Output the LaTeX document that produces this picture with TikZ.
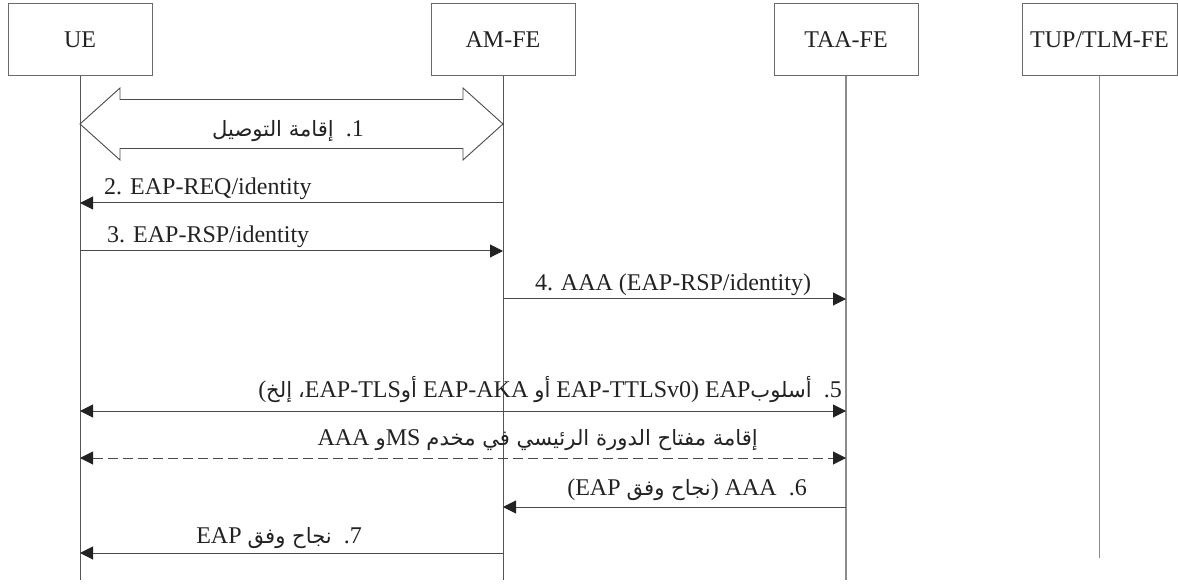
\documentclass[tikz,border=0pt]{standalone}
\usepackage{fontspec}
\setmainfont{Liberation Serif}
\newfontfamily\arabicfont[Script=Arabic,Scale=0.88]{DejaVu Sans}
\TeXXeTstate=1
\usetikzlibrary{arrows.meta,calc}
\definecolor{boxline}{HTML}{6A6A6A}
\definecolor{lifedark}{HTML}{555555}
\definecolor{lifelight}{HTML}{8C8C8C}
\definecolor{msgline}{HTML}{4A4A4A}
\definecolor{tipfill}{HTML}{222222}
\definecolor{inktext}{HTML}{222222}
% Arabic run, Latin run, and a lone glyph kept as its own node
\newcommand{\ar}[1]{{\arabicfont #1}}
\newcommand{\lt}[1]{\beginL #1\endL}
\newcommand{\gl}[1]{\kern0pt{#1}\kern0pt}
\begin{document}
\begin{tikzpicture}[x=1pt,y=-1pt,
  font=\fontsize{24}{28}\selectfont, text=inktext,
  entity/.style={draw=boxline, line width=1pt, minimum width=144pt,
    minimum height=72pt, inner sep=0pt},
  life/.style={draw=lifedark, line width=1pt},
  lifel/.style={draw=lifelight, line width=1.3pt},
  msg/.style={draw=msgline, line width=1pt, -{Triangle[length=13pt,width=13pt,fill=tipfill,color=tipfill]}},
  both/.style={draw=msgline, line width=1pt,
    {Triangle[length=13pt,width=13pt,fill=tipfill,color=tipfill]}-{Triangle[length=13pt,width=13pt,fill=tipfill,color=tipfill]}},
  lbl/.style={inner sep=0pt, anchor=base},
  rlbl/.style={inner sep=0pt, anchor=base east}]
\useasboundingbox (0,0) rectangle (1178,585);

% entities
\node[entity] (ue)  at (80,40)  {UE};
\node[entity] (am)  at (503,40) {AM-FE};
\node[entity] (taa) at (846,40) {TAA-FE};
\node[entity, minimum width=155pt] (tup) at (1099.5,40) {TUP/TLM-FE};

% lifelines
\coordinate (bot)  at (0,580);
\coordinate (botb) at (0,558);
\draw[life]  (ue.south)  -- (ue.south |- bot);
\draw[life]  (am.south)  -- (am.south |- bot);
\draw[lifel] (taa.south) -- (taa.south |- bot);
\draw[lifel] (tup.south) -- (tup.south |- botb);

% message rows
\coordinate (r1) at (0,124);
\coordinate (r2) at (0,203);
\coordinate (r3) at (0,251);
\coordinate (r4) at (0,299);
\coordinate (r5) at (0,411);
\coordinate (rk) at (0,458);
\coordinate (r6) at (0,507);
\coordinate (r7) at (0,553);

% 1. connection set-up: hollow double block arrow
\draw[draw=msgline, line width=0.9pt, line join=miter]
  (ue |- r1) -- ++(40,-36) -- ++(0,11.5)
  -- ($(am |- r1)+(-40,-24.5)$) -- ++(0,-11.5)
  -- (am |- r1) -- ++(-40,36) -- ++(0,-11.5)
  -- ($(ue |- r1)+(40,24.5)$) -- ++(0,11.5) -- cycle;
\node[rlbl] (l1) at (364,137) {\beginR 1\gl{.}\ \ \ar{إقامة التوصيل}\endR};

% 2.-4.
\draw[msg] (am |- r2) -- (ue |- r2);
\node[lbl, anchor=base west] (l2) at (104,195) {2. EAP-REQ/identity};
\draw[msg] (ue |- r3) -- (am |- r3);
\node[lbl, anchor=base west] (l3) at (107,243) {3. EAP-RSP/identity};
\draw[msg] (am |- r4) -- (taa |- r4);
\node[lbl] (l4) at (673,291) {4. AAA (EAP-RSP/identity)};

% 5. EAP method
\draw[both] (ue |- r5) -- (taa |- r5);
\node[rlbl] (l5) at (842,397) {\beginR 5\gl{.}\ \ \ar{أسلوب}\lt{EAP}\ \gl{)}\lt{EAP-TTLSv0}\ \ar{أو}\ \lt{EAP-AKA}\ \ar{أو}\lt{EAP-TLS}\ar{،}\ \ar{إلخ}\gl{(}\endR};

% master session key set-up
\draw[both, dash pattern=on 10pt off 5pt] (ue |- rk) -- (taa |- rk);
\node[rlbl] (lk) at (758,445) {\beginR\ar{إقامة مفتاح الدورة الرئيسي في مخدم}\ \lt{MS}\ar{و}\ \lt{AAA}\endR};

% 6.-7.
\draw[msg] (taa |- r6) -- (am |- r6);
\node[rlbl] (l6) at (807,495) {\beginR 6\gl{.}\ \ \lt{AAA}\ \gl{)}\ar{نجاح وفق}\ \lt{EAP}\gl{(}\endR};
\draw[msg] (am |- r7) -- (ue |- r7);
\node[rlbl] (l7) at (362,543) {\beginR 7\gl{.}\ \ \ar{نجاح وفق}\ \lt{EAP}\endR};
\end{tikzpicture}
\end{document}
